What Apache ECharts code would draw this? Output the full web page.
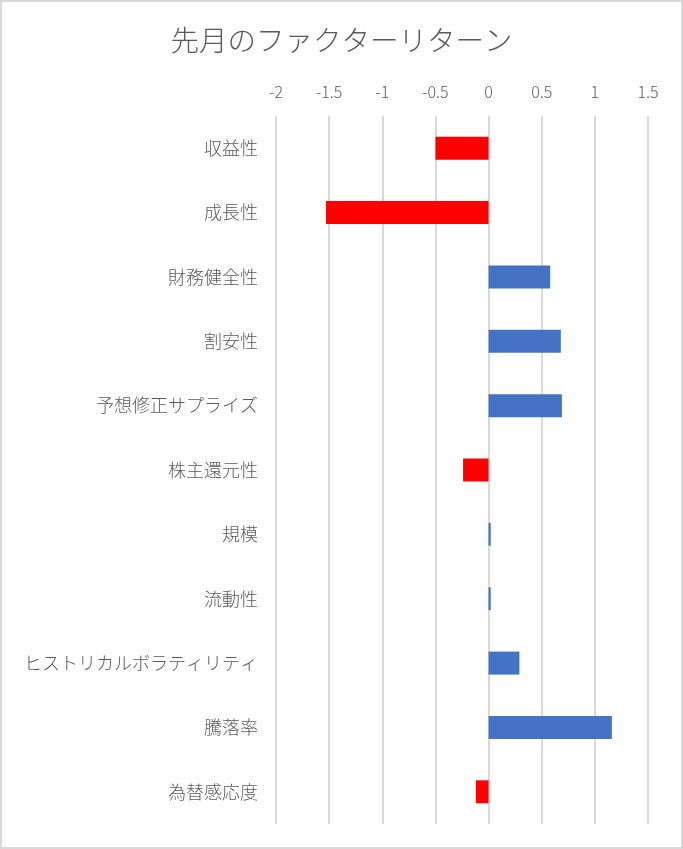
<!DOCTYPE html>
<html><head><meta charset="utf-8">
<script src="https://cdn.jsdelivr.net/npm/echarts@6/dist/echarts.min.js"></script>
<style>html,body{margin:0;padding:0;background:#fff}#c{width:683px;height:849px}</style>
</head><body><div id="c"></div>
<script>
const categories = ['収益性','成長性','財務健全性','割安性','予想修正サプライズ','株主還元性','規模','流動性','ヒストリカルボラティリティ','騰落率','為替感応度'];
const values = [-0.50,-1.53,0.58,0.68,0.69,-0.24,0.02,0.02,0.29,1.16,-0.12];
const tickMin = -2, tickMax = 1.5, tickStep = 0.5;

const chart = echarts.init(document.getElementById('c'));
const font = '"Noto Sans CJK JP","Noto Sans",sans-serif';
chart.setOption({
  animation:false,
  backgroundColor:'#fff',
  title:{text:'先月のファクターリターン',left:'center',top:21,
    textStyle:{fontFamily:font,fontSize:28.5,fontWeight:300,color:'#595959'}},
  graphic:[{type:'rect',shape:{x:1,y:1,width:681,height:847},style:{fill:'none',stroke:'#d9d9d9',lineWidth:2},silent:true}],
  grid:{left:276,right:35,top:116,bottom:25},
  xAxis:{type:'value',position:'top',min:tickMin,max:tickMax,interval:tickStep,
    axisLine:{show:false},axisTick:{show:false},
    axisLabel:{margin:16,fontFamily:font,fontSize:16,fontWeight:300,color:'#595959'},
    splitLine:{lineStyle:{color:'#d9d9d9',width:2}}},
  yAxis:{type:'category',data:categories,inverse:true,
    axisLine:{show:false},axisTick:{show:false},
    axisLabel:{margin:18,fontFamily:font,fontSize:18,fontWeight:300,color:'#595959'}},
  series:[{type:'bar',data:values,barWidth:23,
    itemStyle:{color:p=>p.value<0?'#ff0000':'#4472c4'}}]
});
</script></body></html>
